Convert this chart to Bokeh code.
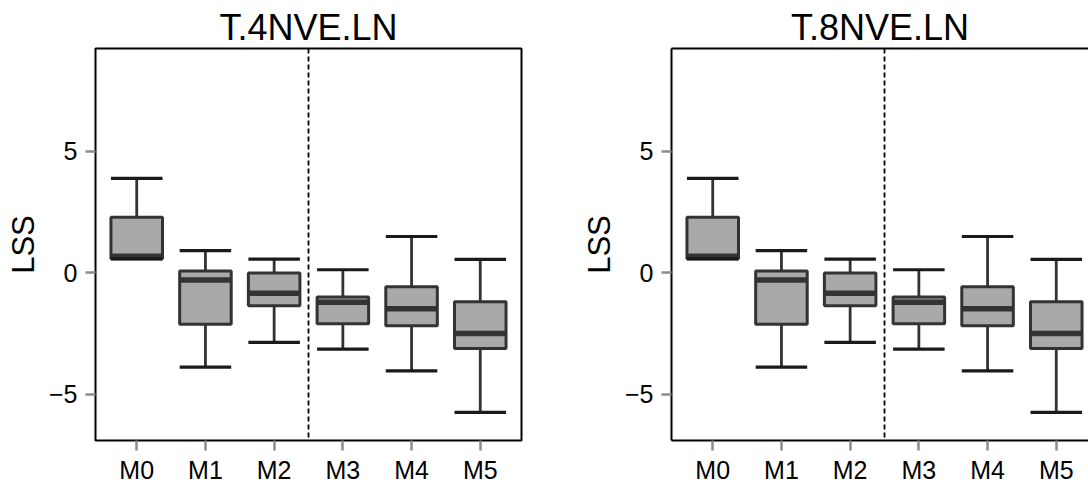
from bokeh.plotting import figure
from bokeh.layouts import row
from bokeh.models import FixedTicker, Span, LinearAxis, Range1d
from bokeh.embed import file_html
from bokeh.resources import INLINE
import numpy as np

# ---- data ----
categories = ["M0", "M1", "M2", "M3", "M4", "M5"]

t4_lower  = [0.57, -3.89, -2.87, -3.15, -4.04, -5.75]
t4_q1     = [0.57, -2.12, -1.36, -2.10, -2.19, -3.12]
t4_median = [0.68, -0.30, -0.85, -1.22, -1.49, -2.50]
t4_q3     = [2.28,  0.07, -0.01, -1.00, -0.58, -1.20]
t4_upper  = [3.88,  0.91,  0.56,  0.12,  1.49,  0.55]

t8_lower  = [0.57, -3.89, -2.87, -3.15, -4.04, -5.75]
t8_q1     = [0.57, -2.12, -1.36, -2.10, -2.19, -3.12]
t8_median = [0.68, -0.30, -0.85, -1.22, -1.49, -2.50]
t8_q3     = [2.28,  0.07, -0.01, -1.00, -0.58, -1.20]
t8_upper  = [3.88,  0.91,  0.56,  0.12,  1.49,  0.55]

titles = ["T.4NVE.LN", "T.8NVE.LN"]
y_ticks = [-5, 0, 5]
y_label = "LSS"

# ---- styling / layout ----
FONT = "Liberation Sans"
FILL = "#a9a9a9"
DARK = "#333333"
TICK = "#8c8c8c"
BOX_W = 0.75
X_START, X_END_FULL = 0.4, 6.6
Y_START, Y_END = -6.91, 9.23
FRAME_W_FULL = 426
FRAME_H = 392


def make_panel(title, lower, q1, med, q3, upper, frame_w, border_right, full_box):
    pos = np.arange(1, len(categories) + 1)
    px_per_unit = FRAME_W_FULL / (X_END_FULL - X_START)
    x_end = X_START + frame_w / px_per_unit
    p = figure(frame_width=frame_w, frame_height=FRAME_H,
               x_range=Range1d(X_START, x_end), y_range=Range1d(Y_START, Y_END),
               output_backend="svg", toolbar_location=None,
               min_border_left=95, min_border_right=border_right,
               min_border_top=48, min_border_bottom=0)
    p.grid.visible = False
    p.background_fill_color = "white"
    p.border_fill_color = "white"

    xa = p.below[0]
    ya = p.left[0]

    p.title.text = title
    p.title.align = "center"
    p.title.text_font = FONT
    p.title.text_font_size = "36px"
    p.title.text_font_style = "normal"
    p.title.text_color = "black"
    p.title.standoff = 2

    # top axis line (no ticks, no labels) used as frame top edge
    top = LinearAxis(ticker=FixedTicker(ticks=[]), major_label_text_font_size="0px",
                     major_tick_out=0, major_tick_in=0, minor_tick_out=0, minor_tick_in=0,
                     major_label_standoff=0,
                     axis_line_width=2, axis_line_color=None if full_box else "black")
    p.add_layout(top, "above")

    if full_box:
        p.outline_line_color = "black"
        p.outline_line_width = 2
        p.outline_line_alpha = 1
    else:
        p.outline_line_color = None

    xa.ticker = FixedTicker(ticks=list(pos))
    xa.major_label_overrides = {int(k): c for k, c in zip(pos, categories)}
    ya.ticker = FixedTicker(ticks=y_ticks)
    ya.major_label_overrides = {t: (f"\u2212{abs(t)}" if t < 0 else str(t)) for t in y_ticks}
    ya.axis_label = y_label
    ya.axis_label_text_font = FONT
    ya.axis_label_text_font_size = "31px"
    ya.axis_label_text_font_style = "normal"
    ya.axis_label_text_color = "black"
    ya.axis_label_standoff = 5
    for ax in (xa, ya):
        ax.major_tick_out = 10
        ax.major_tick_in = 0
        ax.minor_tick_out = 0
        ax.minor_tick_in = 0
        ax.major_tick_line_color = TICK
        ax.major_tick_line_width = 2.5
        ax.major_label_text_font = FONT
        ax.major_label_text_font_size = "25px"
        ax.major_label_text_color = "black"
        if full_box:
            ax.axis_line_color = None
        else:
            ax.axis_line_color = "black"
            ax.axis_line_width = 2
    xa.major_label_standoff = 5
    ya.major_label_standoff = 8

    # divider between M2 and M3
    p.add_layout(Span(location=(pos[2] + pos[3]) / 2, dimension="height",
                      line_color="black", line_width=1.8, line_dash="5 3"))

    lower = np.array(lower); q1 = np.array(q1); med = np.array(med)
    q3 = np.array(q3); upper = np.array(upper)
    hw = BOX_W / 2
    # whiskers
    p.segment(x0=pos, y0=q3, x1=pos, y1=upper, line_color=DARK, line_width=2.8)
    p.segment(x0=pos, y0=q1, x1=pos, y1=lower, line_color=DARK, line_width=2.8)
    # boxes
    p.vbar(x=pos, width=BOX_W, bottom=q1, top=q3, fill_color=FILL,
           line_color=DARK, line_width=3)
    # medians
    p.segment(x0=pos - hw, y0=med, x1=pos + hw, y1=med, line_color=DARK, line_width=5.5)
    # caps
    p.segment(x0=pos - hw, y0=upper, x1=pos + hw, y1=upper, line_color="#1a1a1a", line_width=3.2)
    p.segment(x0=pos - hw, y0=lower, x1=pos + hw, y1=lower, line_color="#1a1a1a", line_width=3.2)
    return p


p1 = make_panel(titles[0], t4_lower, t4_q1, t4_median, t4_q3, t4_upper,
                FRAME_W_FULL, 55, True)
p2 = make_panel(titles[1], t8_lower, t8_q1, t8_median, t8_q3, t8_upper,
                417, 0, False)

layout = row(p1, p2)
open("out.html", "w").write(file_html(layout, INLINE))
